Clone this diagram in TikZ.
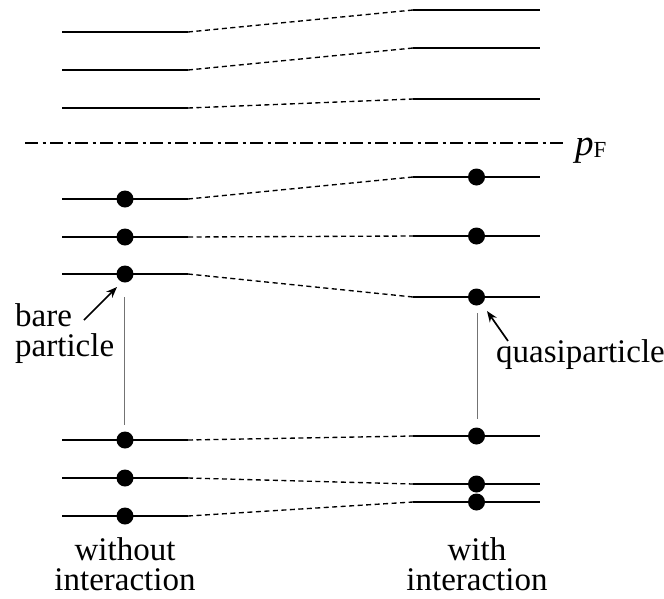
\documentclass[tikz,border=0pt]{standalone}
\usepackage{fontspec}
\setmainfont{Liberation Serif}
\usetikzlibrary{arrows.meta,calc}
\begin{document}
\begin{tikzpicture}[x=1pt,y=-1pt,
  level/.style={line width=2.7pt},
  link/.style={line width=1.35pt,dash pattern=on 5pt off 3.5pt},
  guide/.style={line width=0.8pt,black!55},
  fermi/.style={line width=1.8pt,dash pattern=on 13pt off 4.5pt on 3pt off 4.5pt},
  dot/.style={circle,fill=black,inner sep=0pt,minimum size=17pt},
  lbl/.style={font=\fontsize{33}{30}\selectfont,inner sep=0pt},
  pointer/.style={line width=1.7pt,-{Stealth[length=11pt,width=8.5pt]}}]
\useasboundingbox (0,0) rectangle (664,598);
% energy levels: index / left y / right y
\foreach \i/\yl/\yr in {1/32/10,2/70/48,3/108/99,4/199/177,5/237/236,6/274/297,7/440/436,8/478/484,9/516/502}{
  \coordinate (La\i) at (62,\yl);
  \coordinate (Lb\i) at (188,\yl);
  \coordinate (Ra\i) at (413,\yr);
  \coordinate (Rb\i) at (540,\yr);
  \draw[level] (La\i) -- (Lb\i);
  \draw[level] (Ra\i) -- (Rb\i);
  \draw[link] (Lb\i) -- (Ra\i);
}
% occupied states
\foreach \i in {4,...,9}{
  \node[dot] (Ld\i) at ($(La\i)!0.5!(Lb\i)$) {};
  \node[dot] (Rd\i) at ($(Ra\i)!0.5!(Rb\i)$) {};
}
% Fermi level
\coordinate (F0) at (25,143);
\coordinate (F1) at (563,143);
\draw[fermi] (F0) -- (F1);
\node[anchor=base west,inner sep=0pt] (pF) at (575,155)
  {\fontsize{37}{37}\selectfont\itshape p\raisebox{-2pt}{\fontsize{23}{23}\selectfont\upshape F}};
% guide lines
\coordinate (GL0) at (124,297);
\coordinate (GL1) at (124,425);
\coordinate (GR0) at (477,313);
\coordinate (GR1) at (477,419);
\draw[guide] (GL0) -- (GL1);
\draw[guide] (GR0) -- (GR1);
% labels
\node[lbl,align=left,anchor=south west] (bare) at (15,364) {bare\\particle};
\node[lbl,anchor=base west] (quasi) at (496,362) {quasiparticle};
\coordinate (bareTail) at (84,320);
\coordinate (bareTip) at (117,287);
\draw[pointer] (bareTail) -- (bareTip);
\coordinate (quasiTail) at (508,341);
\coordinate (quasiTip) at (487,311);
\draw[pointer] (quasiTail) -- (quasiTip);
\node[lbl,align=center,anchor=south] (wo) at (125,591) {without\\interaction};
\node[lbl,align=center,anchor=south] (wi) at (477,591) {with\\interaction};
\end{tikzpicture}
\end{document}
